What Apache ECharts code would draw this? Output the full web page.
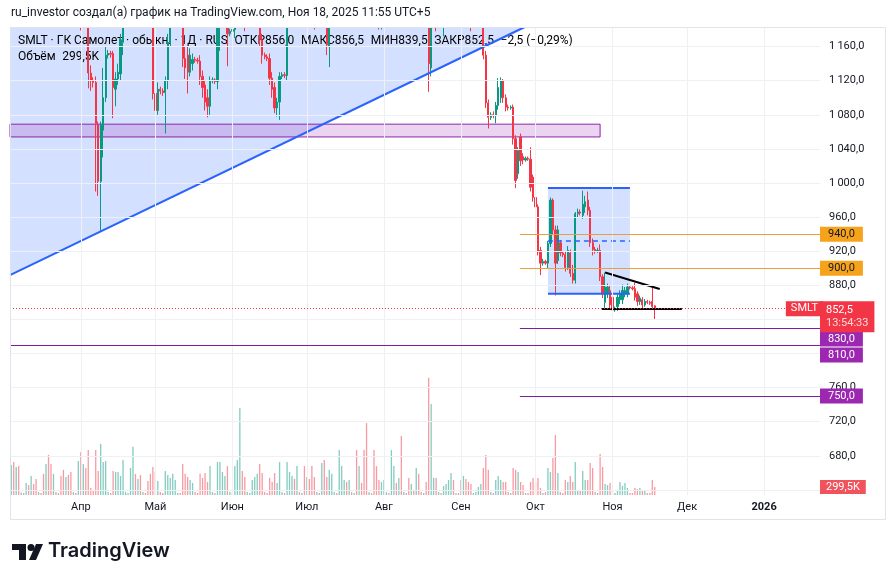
<!DOCTYPE html>
<html><head><meta charset="utf-8">
<script src="https://cdn.jsdelivr.net/npm/echarts@6/dist/echarts.min.js"></script>
<style>html,body{margin:0;padding:0;background:#fff}#c{width:896px;height:582px}</style>
</head><body><div id="c"></div>
<script>
// ---- data (daily bars incl. weekend sessions, from 2025-03-04) ----
// rows: [open, close, low, high]
const ohlc = [
[1250,1262,1240,1275],[1262,1255,1245,1270],[1255,1280,1250,1290],[1280,1272,1262,1288],[1272,1274,1268,1278],[1274,1273,1270,1277],[1273,1295,1268,1305],
[1295,1285,1275,1300],[1285,1300,1280,1312],[1300,1290,1282,1308],[1290,1278,1270,1296],[1278,1279,1275,1282],[1279,1277,1274,1281],[1277,1265,1255,1283],
[1265,1270,1258,1280],[1270,1252,1245,1275],[1252,1240,1230,1258],[1240,1255,1232,1262],[1255,1253,1250,1258],[1253,1254,1250,1257],[1254,1245,1236,1260],
[1245,1228,1220,1250],[1228,1235,1215,1242],[1235,1220,1210,1240],[1220,1210,1198,1226],[1210,1211,1206,1214],[1211,1210,1206,1214],[1210,1218,1195,1225],
[1218,1200,1179,1222],[1200,1212,1190,1220],[1212,1205,1192,1218],[1205,1129,1111,1210],[1129,1120,1108,1138],[1120,1118,1112,1124],[1118,1070,990,1125],
[1068,1002,985,1072],[1002,1068,944,1072],[1062,1100,1030,1135],[1100,1150,1095,1160],[1150,1152,1146,1156],[1152,1151,1147,1155],[1152,1112,1076,1155],
[1110,1122,1090,1130],[1122,1130,1115,1140],[1128,1168,1120,1175],[1165,1200,1150,1210],[1200,1203,1196,1207],[1203,1205,1199,1209],[1205,1230,1192,1240],
[1230,1245,1220,1255],[1245,1238,1225,1258],[1238,1252,1230,1262],[1252,1240,1228,1258],[1240,1241,1236,1244],[1241,1240,1237,1244],[1240,1232,1220,1248],
[1232,1215,1200,1238],[1215,1105,1098,1220],[1105,1085,1075,1115],[1085,1110,1080,1118],[1110,1108,1104,1113],[1108,1106,1102,1111],[1106,1120,1058,1125],
[1120,1165,1110,1175],[1165,1200,1160,1210],[1200,1220,1195,1235],[1220,1230,1205,1245],[1230,1232,1226,1236],[1232,1230,1226,1236],[1230,1146,1136,1240],
[1146,1135,1122,1160],[1150,1130,1105,1160],[1130,1150,1125,1158],[1140,1145,1132,1152],[1145,1144,1141,1148],[1144,1143,1140,1147],[1143,1125,1115,1150],
[1125,1112,1100,1132],[1115,1095,1085,1120],[1100,1090,1077,1110],[1090,1120,1080,1125],[1120,1121,1117,1124],[1121,1119,1116,1123],[1119,1190,1110,1200],
[1185,1215,1155,1225],[1215,1230,1200,1240],[1230,1240,1215,1250],[1240,1175,1137,1245],[1175,1178,1172,1181],[1178,1180,1175,1183],[1180,1215,1170,1222],
[1215,1232,1200,1242],[1232,1245,1222,1258],[1245,1230,1215,1255],[1230,1195,1178,1238],[1195,1197,1190,1200],[1197,1198,1193,1202],[1198,1215,1188,1225],
[1215,1240,1205,1250],[1240,1250,1230,1262],[1250,1168,1160,1255],[1168,1150,1140,1175],[1150,1148,1145,1153],[1148,1146,1143,1151],[1146,1123,1115,1152],
[1123,1110,1100,1130],[1112,1088,1082,1118],[1088,1095,1078,1100],[1095,1125,1074,1130],[1125,1127,1122,1130],[1127,1126,1123,1130],[1126,1200,1120,1210],
[1200,1222,1192,1232],[1222,1240,1212,1250],[1240,1232,1222,1252],[1232,1255,1225,1265],[1255,1254,1250,1258],[1254,1256,1251,1259],[1256,1248,1236,1262],
[1248,1262,1240,1272],[1262,1250,1238,1270],[1250,1238,1226,1256],[1238,1210,1180,1240],[1210,1212,1206,1215],[1212,1211,1207,1215],[1211,1222,1196,1230],
[1222,1215,1195,1228],[1215,1162,1150,1220],[1160,1200,1136,1210],[1200,1222,1190,1230],[1222,1224,1219,1227],[1224,1223,1220,1227],[1223,1238,1212,1248],
[1238,1250,1230,1262],[1250,1262,1240,1275],[1262,1255,1245,1270],[1255,1270,1248,1282],[1270,1269,1265,1273],[1269,1270,1266,1273],[1270,1262,1250,1280],
[1262,1275,1255,1288],[1275,1265,1252,1282],[1265,1250,1240,1272],[1250,1242,1230,1258],[1242,1243,1238,1246],[1243,1242,1239,1246],[1242,1222,1210,1250],
[1222,1208,1195,1228],[1208,1195,1180,1215],[1195,1212,1180,1222],[1212,1230,1205,1240],[1230,1231,1227,1234],[1231,1230,1227,1234],[1230,1245,1222,1255],
[1245,1258,1236,1268],[1258,1250,1240,1266],[1250,1262,1242,1272],[1262,1255,1245,1270],[1255,1256,1252,1259],[1256,1255,1252,1259],[1255,1248,1238,1262],
[1248,1262,1240,1272],[1262,1255,1245,1270],[1255,1265,1246,1275],[1265,1258,1248,1272],[1258,1257,1254,1261],[1257,1258,1254,1261],[1258,1248,1236,1262],
[1248,1140,1107,1252],[1135,1210,1125,1220],[1210,1232,1200,1242],[1232,1190,1178,1240],[1190,1192,1186,1196],[1192,1190,1186,1195],[1188,1222,1172,1230],
[1222,1235,1212,1245],[1235,1248,1228,1258],[1248,1252,1238,1262],[1252,1240,1230,1255],[1240,1241,1237,1244],[1241,1240,1237,1244],[1240,1230,1220,1248],
[1230,1236,1222,1242],[1236,1228,1215,1240],[1228,1222,1208,1238],[1222,1195,1178,1228],[1195,1197,1192,1200],[1197,1198,1193,1201],[1198,1215,1190,1225],
[1215,1220,1205,1230],[1220,1150,1145,1228],[1150,1094,1088,1155],[1094,1077,1064,1098],[1077,1080,1074,1083],[1080,1079,1076,1084],[1079,1091,1070,1095],
[1091,1112,1086,1123],[1100,1120,1094,1124],[1120,1100,1094,1122],[1100,1089,1084,1104],[1089,1088,1085,1092],[1088,1089,1086,1091],[1089,1052,1045,1092],
[1052,1003,994,1056],[1011,1038,1005,1042],[1054,1026,1020,1058],[1031,1027,1022,1035],[1027,1029,1025,1031],[1029,1028,1026,1031],[1028,995,990,1042],
[1007,983,978,1010],[983,972,966,987],[972,919,915,975],[921,906,892,925],[906,908,903,911],[908,906,904,910],[906,929,900,932],
[929,980,925,983],[980,945,940,982],[945,906,868,950],[909,945,905,950],[930,918,914,933],[918,916,913,920],[916,901,896,920],
[901,921,898,926],[918,894,890,922],[894,886,882,904],[886,964,882,966],[964,966,960,970],[966,965,962,969],[962,975,958,991],
[972,978,965,985],[980,968,962,990],[968,930,925,972],[930,922,915,935],[922,920,917,925],[920,921,918,924],[921,890,885,928],
[890,870,865,893],[860,878,853,895],[870,878,865,882],[874,857,852,880],[866,851,848,869],[851,852,849,855],[855,866,850,870],
[863,870,858,874],[863,874,858,881],[870,874,866,878],[870,878,866,882],[878,877,875,880],[877,876,874,879],[876,866,862,883],
[870,861,856,873],[861,865,857,868],[863,857,853,866],[857,861,855,864],[861,860,858,863],[860,859,857,862],[861,855,851,878],
[856,852.5,839.5,856.5]
];
// volume, thousands of shares
const volume = [
1120,1230,1050,1080,90,75,450, 370,710,410,600,110,75,790, 1160,1500,1160,790,110,75,710, 940,670,750,860,110,75,1270,
1610,1160,1010,1680,260,150,1680, 900,1910,1230,1270,110,75,900, 860,860,710,1310,110,75,1010, 1800,790,600,750,110,75,520,
790,1050,860,520,110,75,900, 750,640,790,560,75,75,1160, 790,670,560,450,110,75,790, 640,820,490,1080,110,75,1230,
1230,860,710,1080,110,75,1080, 1310,3250,900,670,110,75,560, 670,790,1160,820,110,75,640, 490,820,450,1230,110,75,1230,
860,710,600,1080,110,75,1080, 670,600,1080,670,110,75,1200, 1310,670,940,790,110,75,1680, 1080,560,490,560,110,75,1680,
1080,450,1680,2690,110,75,1680, 1080,560,490,560,110,75,1680, 1080,450,640,2210,110,75,640, 410,190,1010,790,110,75,490,
4380,3400,640,640,110,75,340, 410,560,820,560,75,75,560, 710,600,490,410,75,110,300, 410,1010,1500,940,110,75,560,
710,560,490,490,110,75,1010, 940,860,490,370,75,75,490, 640,490,640,260,75,110,1010, 860,1380,2240,820,110,75,560,
490,710,490,1230,190,150,900, 560,560,1200,1010,110,75,1530, 1050,410,370,450,190,75,190, 490,340,450,260,75,75,260,
220,260,190,190,75,75,560, 299.5
];
const startDay = '2025-03-04';
const slotCount = 326;
const monthNames = ['Янв','Фев','Мар','Апр','Май','Июн','Июл','Авг','Сен','Окт','Ноя','Дек'];
const priceTicks = [680,720,760,880,920,960,1000,1040,1080,1120,1160];
const gridPrices = [640,680,720,760,800,840,880,920,960,1000,1040,1080,1120,1160];
const countdown = '13:54:33';

// ---- drawings, in (bar index, price) units ----
const trendLine = [[-0.5, 892], [206.7, 1183]];
const band = {x0: -0.5, x1: 237, top: 1069, bottom: 1054};
const channel = {x0: 216, x1: 249, top: 994, mid: 932, bottom: 870};
const wedgeUpper = [[239, 895], [261, 875.7]];
const wedgeBase = [[237.7, 852.2], [269.9, 852.2]];
const orangeLevels = [{price: 940, from: 204.7}, {price: 900, from: 204.7}];
const purpleLevels = [{price: 830, from: 204.7, shift: 11}, {price: 810, from: -0.5, shift: 10}, {price: 750, from: 204.7, shift: 0}];

// ---- build ----
const FONT = 'Roboto, "Noto Sans", "DejaVu Sans", sans-serif';
const t0 = Date.parse(startDay + 'T00:00:00Z');
const categories = [];
for (let i = 0; i < slotCount; i++) categories.push(new Date(t0 + i * 86400000).toISOString().slice(0, 10));
const monthStarts = [];
categories.forEach((d, i) => { if (d.slice(8) === '01') monthStarts.push(i); });

const fmt1 = v => v.toFixed(1).replace('.', ',');
const fmtPrice = v => { let s = fmt1(v); if (v >= 1000) s = s.slice(0, s.length - 5) + '\u2009' + s.slice(s.length - 5); return s; };
const last = ohlc[ohlc.length - 1];
const prevClose = ohlc[ohlc.length - 2][1];
const chg = last[1] - prevClose;
const pct = chg / prevClose * 100;
const signed = (x, d) => (x < 0 ? '\u2212' : '+') + Math.abs(x).toFixed(d).replace('.', ',');
const fmtVol = v => v >= 1000 ? (v / 1000).toFixed(1).replace('.', ',') + 'M' : fmt1(v) + 'K';

const UP = '#089981', DOWN = '#f23645';
const xMax = slotCount - 0.5;
const CLEAR = 'rgba(0,0,0,0)';

function fillRender(params, api) {
  const c = p => api.coord(p);
  const r = (a, b) => { const p1 = c(a), p2 = c(b); return {x: Math.min(p1[0], p2[0]), y: Math.min(p1[1], p2[1]), width: Math.abs(p2[0] - p1[0]), height: Math.abs(p2[1] - p1[1])}; };
  return {type: 'group', children: [
    {type: 'polygon', shape: {points: [c(trendLine[0]), c(trendLine[1]), c([trendLine[0][0], trendLine[1][1]])]}, style: {fill: 'rgba(41,98,255,0.2)'}},
    {type: 'rect', shape: r([band.x0, band.top], [band.x1, band.bottom]), style: {fill: 'rgba(156,39,176,0.2)', stroke: '#8e24aa', lineWidth: 1}},
    {type: 'rect', shape: r([channel.x0, channel.top], [channel.x1, channel.bottom]), style: {fill: 'rgba(41,98,255,0.2)'}}
  ]};
}
function lineRender(params, api) {
  const c = p => api.coord(p);
  const seg = (a, b, style) => { const p1 = c(a), p2 = c(b); return {type: 'line', shape: {x1: p1[0], y1: p1[1], x2: p2[0], y2: p2[1]}, style: style}; };
  const blue = {stroke: '#2962ff', lineWidth: 2};
  return {type: 'group', children: [
    seg(trendLine[0], trendLine[1], blue),
    seg([channel.x0, channel.top], [channel.x1, channel.top], blue),
    seg([channel.x0, channel.bottom], [channel.x1, channel.bottom], blue),
    seg([channel.x0, channel.mid], [channel.x1, channel.mid], {stroke: '#2962ff', lineWidth: 1.5, lineDash: [5, 4]}),
    seg(wedgeUpper[0], wedgeUpper[1], {stroke: '#000', lineWidth: 2}),
    seg(wedgeBase[0], wedgeBase[1], {stroke: '#000', lineWidth: 2})
  ]};
}

const boxLabel = (text, bg, color, shift) => ({show: true, position: 'end', distance: 0, formatter: text, backgroundColor: bg, color: color,
  padding: [2, 8, 2, 8], fontSize: 11, fontFamily: FONT, offset: [0, shift || 0]});

const levelLines = [];
orangeLevels.forEach(l => levelLines.push([
  {coord: [l.from, l.price], lineStyle: {color: '#e9a03b', width: 1, type: 'solid'}, label: boxLabel(fmt1(l.price), '#f7a21b', '#131722')},
  {coord: [xMax, l.price]}]));
purpleLevels.forEach(l => levelLines.push([
  {coord: [l.from, l.price], lineStyle: {color: '#7b1fa2', width: 1, type: 'solid'}, label: boxLabel(fmt1(l.price), '#9c27b0', '#fff', l.shift)},
  {coord: [xMax, l.price]}]));
// last price line + labels
levelLines.push([
  {coord: [-0.5, last[1]], lineStyle: {color: DOWN, width: 1, type: [1, 2]},
   label: {show: true, position: 'end', distance: 0, backgroundColor: DOWN, color: '#fff', padding: [3, 6, 2, 6], fontSize: 11, fontFamily: FONT,
     lineHeight: 13, offset: [0, 8], formatter: fmt1(last[1]) + '\n{t|' + countdown + '}', rich: {t: {color: '#ffd9dc', fontSize: 11, lineHeight: 13, fontFamily: FONT}}}},
  {coord: [xMax, last[1]]}]);
levelLines.push([
  {coord: [-0.5, last[1]], lineStyle: {color: CLEAR, width: 1},
   label: {show: true, position: 'end', distance: 3, align: 'right', backgroundColor: DOWN, color: '#fff', padding: [2, 5, 2, 5], fontSize: 11, fontFamily: FONT, formatter: 'SMLT'}},
  {coord: [xMax, last[1]]}]);

const gridLineData = gridPrices.map(v => ({yAxis: v})).concat(monthStarts.map(i => ({xAxis: i})));

const legendText =
  '{n|SMLT · ГК Самолет · обыкн. · 1Д · RUS}  {n|ОТКР}{v|' + fmt1(last[0]) + '}  {n|МАКС}{v|' + fmt1(last[3]) +
  '}  {n|МИН}{v|' + fmt1(last[2]) + '}  {n|ЗАКР}{v|' + fmt1(last[1]) + '}  {v|' + signed(chg, 1) + ' (' + signed(pct, 2) + '%)}';
const volText = '{n|Объём}  {w|' + fmtVol(volume[volume.length - 1]) + '}';
const richLegend = {n: {color: '#131722', fontSize: 12, fontFamily: FONT}, v: {color: DOWN, fontSize: 12, fontFamily: FONT},
  w: {color: '#f0626c', fontSize: 12, fontFamily: FONT}};

const chart = echarts.init(document.getElementById('c'));
chart.setOption({
  animation: false,
  backgroundColor: '#ffffff',
  textStyle: {fontFamily: FONT},
  grid: {left: 10, right: 76, top: 27, bottom: 87},
  xAxis: [
    {type: 'category', data: categories, boundaryGap: true, axisLine: {show: false}, axisTick: {show: false}, splitLine: {show: false},
      axisLabel: {interval: (i, v) => v.slice(8) === '01', color: '#131722', fontSize: 11, margin: 7,
        formatter: v => v.slice(5, 7) === '01' ? '{y|' + v.slice(0, 4) + '}' : monthNames[+v.slice(5, 7) - 1],
        rich: {y: {fontWeight: 'bold', fontSize: 11, color: '#131722', fontFamily: FONT}}}},
    {type: 'value', min: -0.5, max: xMax, show: false, position: 'top'}
  ],
  yAxis: [
    {type: 'value', position: 'right', min: 634, max: 1183, axisLine: {show: false}, axisTick: {show: false}, splitLine: {show: false},
      axisLabel: {customValues: priceTicks, formatter: fmtPrice, color: '#131722', fontSize: 11, margin: 9}},
    {type: 'value', min: 0, max: 17500, show: false}
  ],
  graphic: [
    // mask above the pane (clips candles that run past the top edge)
    {type: 'rect', shape: {x: 0, y: 0, width: 896, height: 27}, style: {fill: '#ffffff'}, silent: true, z: 20},
    {type: 'rect', shape: {x: 10.5, y: 27.5, width: 875, height: 492}, style: {fill: 'none', stroke: '#e0e3eb', lineWidth: 1}, silent: true, z: 21},
    {type: 'text', left: 11, top: 7, z: 22, style: {text: 'ru_investor создал(а) график на TradingView.com, Ноя 18, 2025 11:55 UTC+5',
      fill: '#131722', font: '12px ' + FONT}},
    {type: 'text', left: 18, top: 35, z: 2, style: {text: legendText, rich: richLegend, fontSize: 12}},
    {type: 'text', left: 18, top: 51, z: 2, style: {text: volText, rich: richLegend, fontSize: 12}},
    {type: 'group', left: 12, top: 544, children: [
      {type: 'rect', shape: {x: 0, y: 0, width: 14, height: 6}, style: {fill: '#131722'}},
      {type: 'rect', shape: {x: 7, y: 0, width: 7, height: 16}, style: {fill: '#131722'}},
      {type: 'circle', shape: {cx: 19, cy: 3.5, r: 3.5}, style: {fill: '#131722'}},
      {type: 'polygon', shape: {points: [[17, 16], [24, 16], [31, 0], [24, 0]]}, style: {fill: '#131722'}}
    ]},
    {type: 'text', left: 48, top: 541, style: {text: 'TradingView', fill: '#131722', font: '600 20px Inter, Roboto, sans-serif'}}
  ],
  series: [
    {type: 'line', name: 'grid', xAxisIndex: 1, yAxisIndex: 0, data: [], z: 0, silent: true,
      markLine: {silent: true, symbol: ['none', 'none'], animation: false, label: {show: false},
        lineStyle: {color: '#eef0f4', width: 1, type: 'solid'}, data: gridLineData}},
    {type: 'custom', name: 'fills', xAxisIndex: 1, yAxisIndex: 0, data: [[0, 900]], encode: {x: 0, y: 1}, renderItem: fillRender, z: 1, silent: true},
    {type: 'candlestick', name: 'SMLT', xAxisIndex: 0, yAxisIndex: 0, data: ohlc, barWidth: 1.8, z: 3,
      itemStyle: {color: UP, color0: DOWN, borderColor: UP, borderColor0: DOWN, borderWidth: 1}},
    {type: 'bar', name: 'Объём', xAxisIndex: 0, yAxisIndex: 1, data: volume, barWidth: 1.3, z: 3,
      itemStyle: {color: p => (ohlc[p.dataIndex][1] >= ohlc[p.dataIndex][0] ? 'rgba(8,153,129,0.5)' : 'rgba(242,54,69,0.5)')}},
    {type: 'custom', name: 'lines', xAxisIndex: 1, yAxisIndex: 0, data: [[0, 900]], encode: {x: 0, y: 1}, renderItem: lineRender, z: 4, silent: true},
    {type: 'line', name: 'levels', xAxisIndex: 1, yAxisIndex: 0, data: [], z: 5, silent: true,
      markLine: {silent: true, symbol: ['none', 'none'], animation: false, data: levelLines}},
    {type: 'line', name: 'vollabel', xAxisIndex: 1, yAxisIndex: 1, data: [], z: 5, silent: true,
      markLine: {silent: true, symbol: ['none', 'none'], animation: false,
        data: [{yAxis: volume[volume.length - 1], lineStyle: {color: CLEAR, width: 1},
          label: {show: true, position: 'end', distance: 0, formatter: fmtVol(volume[volume.length - 1]), backgroundColor: '#f0535c', color: '#fff', padding: [2, 6, 1, 6], fontSize: 11, fontFamily: FONT}}]}}
  ]
});
</script></body></html>
